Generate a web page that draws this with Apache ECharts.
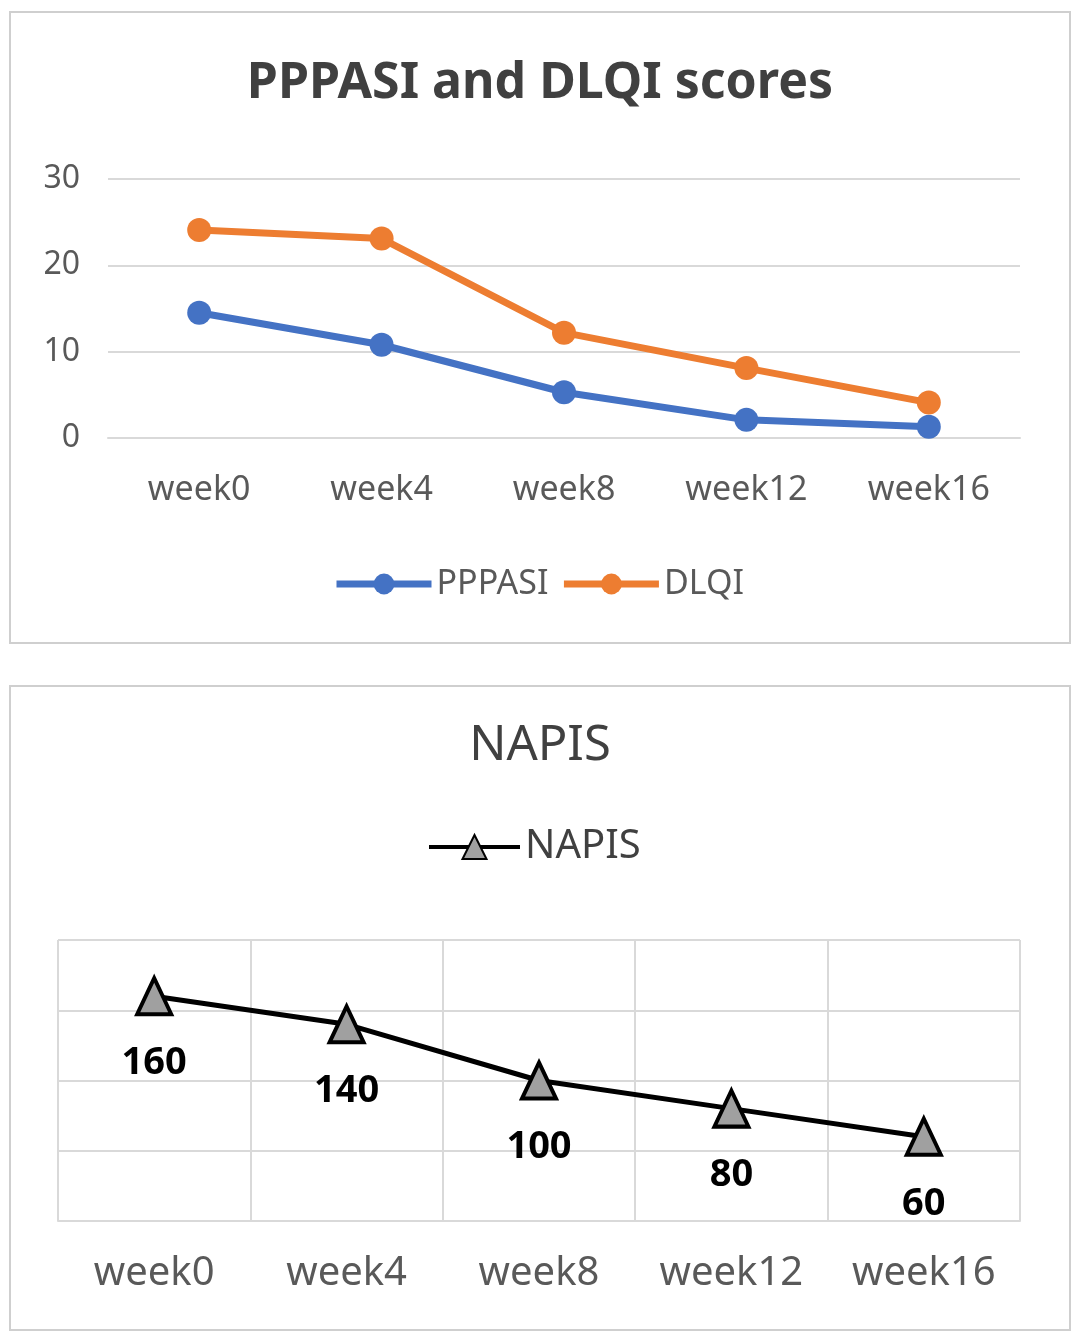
<!DOCTYPE html>
<html>
<head>
<meta charset="utf-8">
<script src="https://cdn.jsdelivr.net/npm/echarts@6/dist/echarts.min.js"></script>
<style>
html, body { margin: 0; padding: 0; background: #fff; }
#chart { width: 1080px; height: 1339px; }
</style>
</head>
<body>
<div id="chart"></div>
<script>
// chart data
const weeks = ["week0", "week4", "week8", "week12", "week16"];
const pppasi = [14.5, 10.8, 5.3, 2.1, 1.3];
const dlqi = [24.1, 23.1, 12.2, 8.1, 4.1];
const napis = [160, 140, 100, 80, 60];

const font = "Noto Sans";
const labelGray = "#595959";
const gridGray = "#d9d9d9";
const blue = "#4472C4";
const orange = "#ED7D31";

const chart = echarts.init(document.getElementById("chart"));
const option = {
    backgroundColor: "#fff",
    animation: false,
    textStyle: { fontFamily: font },
    graphic: [
        {
            type: "rect",
            shape: { x: 10, y: 12, width: 1060, height: 631 },
            style: { fill: "none", stroke: "#cfcfcf", lineWidth: 2 },
        },
        {
            type: "rect",
            shape: { x: 10, y: 686, width: 1060, height: 644 },
            style: { fill: "none", stroke: "#cfcfcf", lineWidth: 2 },
        },
    ],
    title: [
        {
            text: "PPPASI and DLQI scores",
            left: "center",
            top: 54,
            textStyle: { fontFamily: font, fontSize: 50, fontWeight: "bold", color: "#404040" },
        },
        {
            text: "NAPIS",
            left: "center",
            top: 717,
            textStyle: { fontFamily: font, fontSize: 49, fontWeight: "normal", color: "#404040" },
        },
    ],
    legend: [
        {
            data: [
                { name: "PPPASI", lineStyle: { width: 7, color: blue } },
                { name: "DLQI", lineStyle: { width: 7, color: orange } },
            ],
            left: 328,
            top: 562,
            itemWidth: 95,
            itemHeight: 26,
            itemGap: 12,
            textStyle: { fontFamily: font, fontSize: 34, color: labelGray },
        },
        {
            data: [{ name: "NAPIS", lineStyle: { width: 4, color: "#000" } }],
            left: 422,
            top: 822,
            itemWidth: 91,
            itemHeight: 30,
            textStyle: { fontFamily: font, fontSize: 40, color: "#404040" },
        },
    ],
    grid: [
        { left: 108, right: 60, top: 179, bottom: 901 },
        { left: 58, right: 60, top: 940, bottom: 118 },
    ],
    xAxis: [
        {
            gridIndex: 0,
            type: "category",
            data: weeks,
            axisLine: { lineStyle: { color: gridGray, width: 2 } },
            axisTick: { show: false },
            axisLabel: { fontFamily: font, fontSize: 34, color: labelGray, margin: 35 },
        },
        {
            gridIndex: 1,
            type: "category",
            data: weeks,
            axisLine: { lineStyle: { color: gridGray, width: 2 } },
            axisTick: { show: false },
            axisLabel: { fontFamily: font, fontSize: 40, color: labelGray, margin: 33 },
            splitLine: { show: true, lineStyle: { color: gridGray, width: 2 } },
        },
    ],
    yAxis: [
        {
            gridIndex: 0,
            type: "value",
            min: 0,
            max: 30,
            interval: 10,
            axisLine: { show: false },
            axisTick: { show: false },
            axisLabel: { fontFamily: font, fontSize: 32, color: labelGray, margin: 28 },
            splitLine: { lineStyle: { color: gridGray, width: 2 } },
        },
        {
            gridIndex: 1,
            type: "value",
            min: 0,
            max: 200,
            interval: 50,
            axisLine: { show: false },
            axisTick: { show: false },
            axisLabel: { show: false },
            splitLine: { lineStyle: { color: gridGray, width: 2 } },
        },
    ],
    series: [
        {
            name: "PPPASI",
            type: "line",
            xAxisIndex: 0,
            yAxisIndex: 0,
            data: pppasi,
            symbol: "circle",
            symbolSize: 24,
            lineStyle: { color: blue, width: 7 },
            itemStyle: { color: blue },
        },
        {
            name: "DLQI",
            type: "line",
            xAxisIndex: 0,
            yAxisIndex: 0,
            data: dlqi,
            symbol: "circle",
            symbolSize: 24,
            lineStyle: { color: orange, width: 7 },
            itemStyle: { color: orange },
        },
        {
            name: "NAPIS",
            type: "line",
            xAxisIndex: 1,
            yAxisIndex: 1,
            data: napis,
            symbol: "triangle",
            symbolSize: [34, 36],
            z: 3,
            lineStyle: { color: "#000", width: 5 },
            itemStyle: { color: "#a0a0a0", borderColor: "#000", borderWidth: 4 },
            label: {
                show: true,
                position: "bottom",
                distance: 28,
                fontFamily: font,
                fontSize: 38,
                fontWeight: "bold",
                color: "#000",
            },
        },
    ],
};
chart.setOption(option);
window.addEventListener("resize", function () {
    chart.resize();
});
</script>
</body>
</html>
